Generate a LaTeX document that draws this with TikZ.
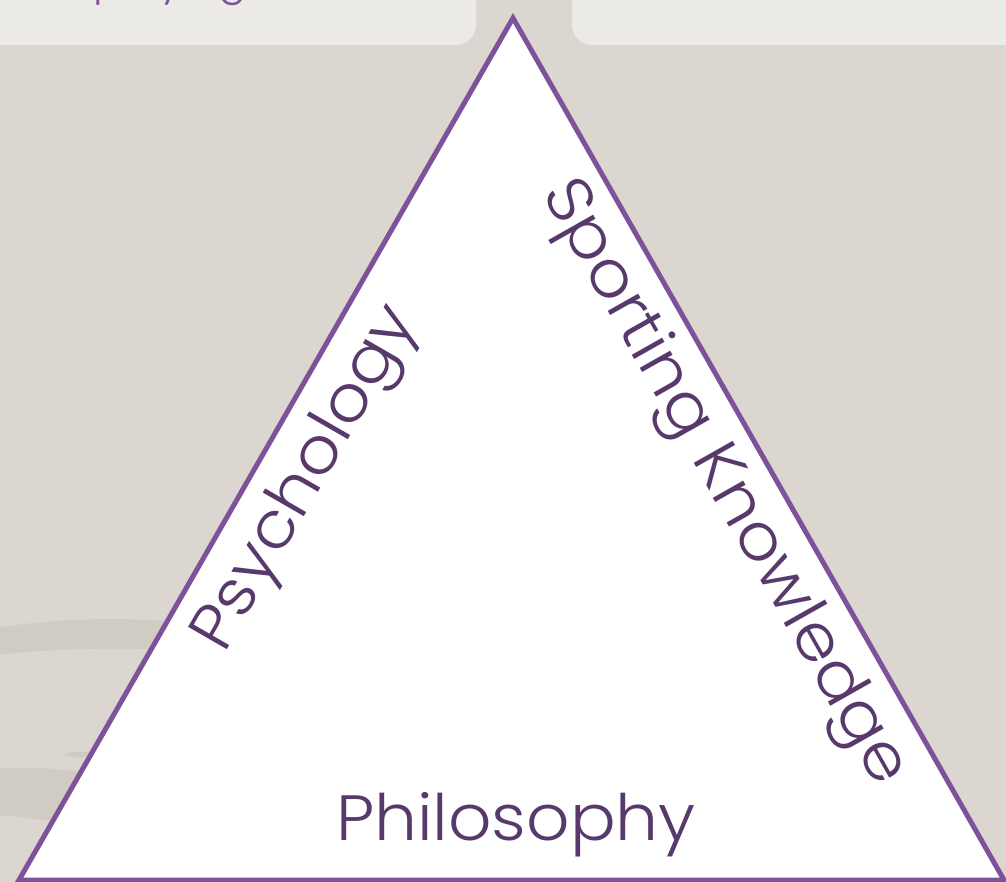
\documentclass[tikz,border=0pt]{standalone}
\usepackage{fontspec}
\newfontfamily\lab{Poppins Light}
\definecolor{bgc}{HTML}{DBD7D0}
\definecolor{boxc}{HTML}{ECEAE6}
\definecolor{swc}{HTML}{D0CCC3}
\definecolor{edgec}{HTML}{7E529B}
\definecolor{txtc}{HTML}{573A6B}
\tikzset{
  tri/.style={draw=edgec, fill=white, line width=5pt, line join=miter},
  panel/.style={fill=boxc, rounded corners=20pt},
  lbl/.style={inner sep=0pt, text=txtc, font=\lab\fontsize{64}{76}\selectfont},
  toptext/.style={inner sep=0pt, text=edgec, font=\lab\fontsize{42}{50}\selectfont}
}
\begin{document}
\begin{tikzpicture}[x=1pt,y=-1pt]
\useasboundingbox (0,0) rectangle (1006,882);
\clip (0,0) rectangle (1006,882);
\fill[bgc] (0,0) rectangle (1006,882);
% background swooshes
\fill[swc] (-5,628) .. controls (60,618) and (120,617) .. (175,622) -- (175,650) .. controls (110,647) and (50,649) .. (-5,655) -- cycle;
\fill[swc] (-5,768) .. controls (40,766) and (75,770) .. (110,778) -- (110,832) .. controls (60,823) and (30,817) .. (-5,815) -- cycle;
\fill[swc] (80,754.5) ellipse (15 and 3);
% top panels
\fill[panel] (-40,-40) rectangle (476,45);
\fill[panel] (572,-40) rectangle (1046,45);
\node[toptext, anchor=base west] (top) at (93,-5) {playing};
% triangle
\coordinate (A) at (513,18);
\coordinate (B) at (19,880);
\coordinate (C) at (1004,880);
\draw[tri] (A) -- (B) -- (C) -- cycle;
% labels
\node[lbl, anchor=base, xscale=1.06] (phil) at (516,840) {Philosophy};
\node[lbl, anchor=base west, rotate=60, xscale=1.08] (psy) at (224,655) {Psychology};
\node[lbl, anchor=base west, rotate=-60.5, xscale=1.08] (spk) at (541,193) {Sporting Knowledge};
\end{tikzpicture}
\end{document}
